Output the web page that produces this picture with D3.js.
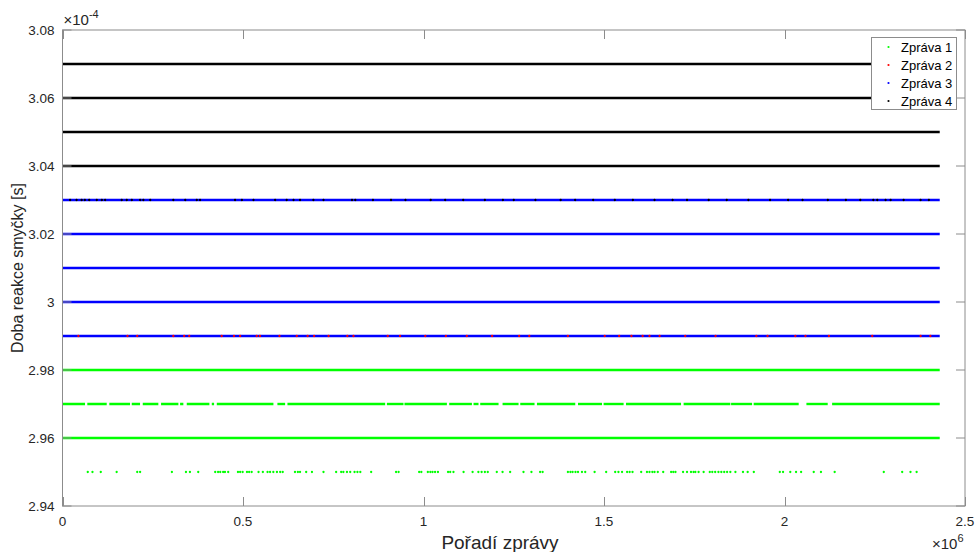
<!DOCTYPE html>
<html>
<head>
<meta charset="utf-8">
<script src="https://cdn.jsdelivr.net/npm/d3@7"></script>
<style>
  html, body { margin: 0; padding: 0; background: #fff; }
  svg { display: block; font-family: "Liberation Sans", Arial, Helvetica, sans-serif; }
</style>
</head>
<body>
<svg id="chart" width="976" height="552"></svg>
<script>
// Message index axis in units of 10^6, reaction time in units of 10^-4 s
const sampleEnd = 2.43;

const seriesNames = ["Zpráva 1", "Zpráva 2", "Zpráva 3", "Zpráva 4"];
const seriesColors = ["#00ff00", "#ff0000", "#0000ff", "#000000"];

// Zpráva 1: levels that are hit on practically every sample
const z1SolidLevels = [2.96, 2.98];
// Zpráva 1: runs of samples at 2.97 (start, end)
const z1Runs297 = [
  [0, 0.0624], [0.0687, 0.1225], [0.1297, 0.1871], [0.1918, 0.2148],
  [0.2223, 0.2655], [0.273, 0.321], [0.3257, 0.3348], [0.3442, 0.4069],
  [0.4135, 0.4199], [0.4274, 0.5843], [0.5953, 0.6167], [0.6231, 0.8938],
  [0.8986, 0.9446], [0.9473, 1.0648], [1.0712, 1.1341], [1.1386, 1.1524],
  [1.1571, 1.2079], [1.219, 1.2633], [1.268, 1.3076], [1.3143, 1.4204],
  [1.4279, 1.4944], [1.4989, 1.5543], [1.561, 1.7134], [1.7206, 1.85],
  [1.852, 1.9102], [1.9146, 2.0393], [2.0607, 2.1197], [2.1319, 2.43]
];
// Zpráva 1: isolated samples at 2.95
const z1Dots295 = [
  0.070, 0.083, 0.106, 0.150, 0.207, 0.215, 0.303, 0.342, 0.353, 0.376,
  0.423, 0.431, 0.437, 0.445, 0.450, 0.459, 0.486, 0.492, 0.499, 0.511,
  0.517, 0.524, 0.543, 0.555, 0.568, 0.575, 0.584, 0.594, 0.603, 0.610,
  0.644, 0.652, 0.658, 0.675, 0.691, 0.723, 0.758, 0.772, 0.778, 0.788,
  0.797, 0.809, 0.817, 0.825, 0.855, 0.924, 0.931, 0.988, 0.994, 1.012,
  1.019, 1.025, 1.032, 1.040, 1.068, 1.074, 1.083, 1.111, 1.136, 1.152,
  1.161, 1.170, 1.178, 1.203, 1.219, 1.240, 1.277, 1.299, 1.323, 1.330,
  1.400, 1.407, 1.413, 1.421, 1.428, 1.439, 1.448, 1.474, 1.506, 1.531,
  1.540, 1.550, 1.564, 1.571, 1.579, 1.603, 1.619, 1.626, 1.634, 1.640,
  1.649, 1.664, 1.686, 1.692, 1.698, 1.719, 1.730, 1.741, 1.748, 1.753,
  1.762, 1.776, 1.793, 1.800, 1.808, 1.817, 1.825, 1.833, 1.841, 1.850,
  1.864, 1.885, 1.898, 1.915, 1.987, 1.996, 2.016, 2.032, 2.046, 2.081,
  2.101, 2.139, 2.275, 2.326, 2.349, 2.366
];
// Zpráva 2: samples at 2.99
const z2Dots299 = [
  0.044, 0.180, 0.207, 0.307, 0.337, 0.351, 0.441, 0.475, 0.492, 0.538,
  0.547, 0.601, 0.649, 0.679, 0.697, 0.737, 0.789, 0.806, 0.901, 0.935,
  1.005, 1.062, 1.120, 1.190, 1.265, 1.293, 1.400, 1.502, 1.542, 1.576,
  1.607, 1.626, 1.654, 1.725, 1.809, 1.922, 1.953, 2.030, 2.058, 2.123,
  2.243, 2.377, 2.404
];
// Zpráva 3: levels hit on practically every sample
const z3SolidLevels = [2.99, 3.00, 3.01, 3.02, 3.03];
// Zpráva 4: levels hit on practically every sample
const z4SolidLevels = [3.04, 3.05, 3.06, 3.07];
// Zpráva 4: samples at 3.03
const z4Dots303 = [
  0.021, 0.039, 0.053, 0.062, 0.074, 0.095, 0.109, 0.118, 0.164, 0.178,
  0.192, 0.215, 0.224, 0.243, 0.307, 0.340, 0.372, 0.381, 0.478, 0.497,
  0.529, 0.589, 0.621, 0.640, 0.658, 0.695, 0.723, 0.802, 0.811, 0.860,
  0.910, 0.950, 1.020, 1.060, 1.110, 1.170, 1.220, 1.250, 1.310, 1.380,
  1.420, 1.470, 1.530, 1.580, 1.640, 1.690, 1.730, 1.790, 1.840, 1.900,
  1.960, 2.010, 2.050, 2.120, 2.170, 2.210, 2.246, 2.257, 2.280, 2.294,
  2.330, 2.377, 2.400
];

const xTicks = [0, 0.5, 1, 1.5, 2, 2.5];
const xTickLabels = ["0", "0.5", "1", "1.5", "2", "2.5"];
const yTicks = [2.94, 2.96, 2.98, 3.00, 3.02, 3.04, 3.06, 3.08];
const yTickLabels = ["2.94", "2.96", "2.98", "3", "3.02", "3.04", "3.06", "3.08"];

const margin = { left: 62.5, right: 965, top: 30, bottom: 506 };
const axisColor = "#8c8c8c";
const textColor = "#262626";
const tickLen = 9;

const svg = d3.select("#chart");
const x = d3.scaleLinear().domain([0, 2.5]).range([margin.left, margin.right]);
const y = d3.scaleLinear().domain([2.94, 3.08]).range([margin.bottom, margin.top]);

svg.append("defs").append("clipPath").attr("id", "plotClip")
  .append("rect")
  .attr("x", margin.left).attr("y", margin.top)
  .attr("width", margin.right - margin.left)
  .attr("height", margin.bottom - margin.top);

const plot = svg.append("g").attr("clip-path", "url(#plotClip)");

const lineW = 2.4;
const dotR = 1.15;

function drawRuns(runs, level, color) {
  plot.append("g").selectAll("line").data(runs).join("line")
    .attr("x1", d => x(d[0])).attr("x2", d => x(d[1]))
    .attr("y1", y(level)).attr("y2", y(level))
    .attr("stroke", color).attr("stroke-width", lineW);
}
function drawDots(xs, level, color) {
  plot.append("g").selectAll("circle").data(xs).join("circle")
    .attr("cx", d => x(d)).attr("cy", y(level))
    .attr("r", dotR).attr("fill", color);
}

// Zpráva 1
z1SolidLevels.forEach(l => drawRuns([[0, sampleEnd]], l, seriesColors[0]));
drawRuns(z1Runs297, 2.97, seriesColors[0]);
drawDots(z1Dots295, 2.95, seriesColors[0]);
// Zpráva 3
z3SolidLevels.forEach(l => drawRuns([[0, sampleEnd]], l, seriesColors[2]));
// Zpráva 2
drawDots(z2Dots299, 2.99, seriesColors[1]);
// Zpráva 4
z4SolidLevels.forEach(l => drawRuns([[0, sampleEnd]], l, seriesColors[3]));
drawDots(z4Dots303, 3.03, seriesColors[3]);

// Axes box with inward ticks on all four sides
const axes = svg.append("g").attr("stroke", axisColor).attr("stroke-width", 1).attr("fill", "none");
axes.append("rect")
  .attr("x", margin.left).attr("y", margin.top)
  .attr("width", margin.right - margin.left)
  .attr("height", margin.bottom - margin.top);
xTicks.forEach(t => {
  const px = Math.round(x(t)) + 0.5;
  axes.append("line").attr("x1", px).attr("x2", px).attr("y1", margin.bottom).attr("y2", margin.bottom - tickLen);
  axes.append("line").attr("x1", px).attr("x2", px).attr("y1", margin.top).attr("y2", margin.top + tickLen);
});
yTicks.forEach(t => {
  const py = y(t);
  axes.append("line").attr("x1", margin.left).attr("x2", margin.left + tickLen).attr("y1", py).attr("y2", py);
  axes.append("line").attr("x1", margin.right).attr("x2", margin.right - tickLen).attr("y1", py).attr("y2", py);
});

// Tick labels
const fs = 13.5;
svg.append("g").selectAll("text").data(xTicks).join("text")
  .attr("x", d => x(d)).attr("y", margin.bottom + 20)
  .attr("text-anchor", "middle").attr("font-size", fs).attr("fill", textColor)
  .text((d, i) => xTickLabels[i]);
svg.append("g").selectAll("text").data(yTicks).join("text")
  .attr("x", margin.left - 8).attr("y", d => y(d) + 4.5)
  .attr("text-anchor", "end").attr("font-size", fs).attr("fill", textColor)
  .text((d, i) => yTickLabels[i]);

// Exponent multipliers
const expY = svg.append("text").attr("x", margin.left + 1).attr("y", 25)
  .attr("font-size", 15).attr("fill", textColor);
expY.append("tspan").text("\u00d710");
expY.append("tspan").attr("dy", -7).attr("font-size", 11).text("-4");

const expX = svg.append("text").attr("x", 932).attr("y", 549)
  .attr("font-size", 15).attr("fill", textColor);
expX.append("tspan").text("\u00d710");
expX.append("tspan").attr("dy", -7).attr("font-size", 11).text("6");

// Axis titles
svg.append("text").attr("x", 500).attr("y", 549)
  .attr("text-anchor", "middle").attr("font-size", 19).attr("fill", textColor)
  .text("Pořadí zprávy");
svg.append("text")
  .attr("transform", `translate(23,${(margin.top + margin.bottom) / 2}) rotate(-90)`)
  .attr("text-anchor", "middle").attr("font-size", 16).attr("fill", textColor)
  .text("Doba reakce smyčky [s]");

// Legend
const lg = svg.append("g");
lg.append("rect").attr("x", 871.5).attr("y", 37.5).attr("width", 85).attr("height", 72)
  .attr("fill", "#fff").attr("stroke", axisColor).attr("stroke-width", 1);
seriesNames.forEach((name, i) => {
  const cy = 47 + i * 18;
  lg.append("circle").attr("cx", 888.5).attr("cy", cy).attr("r", 1.1).attr("fill", seriesColors[i]);
  lg.append("text").attr("x", 901).attr("y", cy + 4.5).attr("font-size", 13).attr("fill", "#000")
    .text(name);
});
</script>
</body>
</html>
